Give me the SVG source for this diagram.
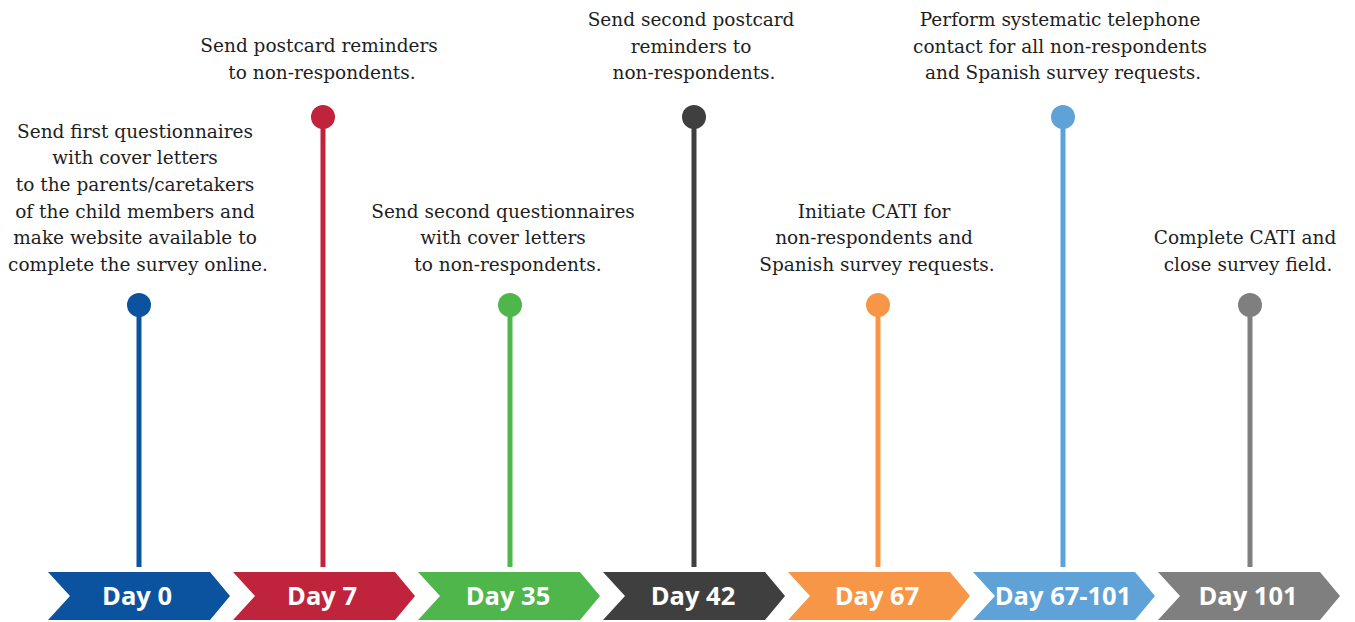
<svg xmlns="http://www.w3.org/2000/svg" width="1355" height="622" viewBox="0 0 1355 622">
  <defs>
    <style>
      .note { font-family: "DejaVu Serif", "Liberation Serif", serif; font-size: 18.5px; fill: #1e1e1e; text-anchor: middle; }
      .day { font-family: "Open Sans", "Liberation Sans", sans-serif; font-weight: bold; font-size: 25.5px; fill: #ffffff; text-anchor: middle; }
      .stem { stroke-width: 5; }
    </style>
    <!-- chevron shape with origin at its top-left corner -->
    <polygon id="chev" points="0,572 162,572 182,596 162,620 0,620 22,596"/>
  </defs>

  <rect width="1355" height="622" fill="#ffffff"/>

  <!-- stems with dots -->
  <g id="connectors">
    <line class="stem" x1="139" y1="305" x2="139" y2="567" stroke="#0B539E"/>
    <line class="stem" x1="323" y1="117" x2="323" y2="567" stroke="#C0243C"/>
    <line class="stem" x1="510" y1="305" x2="510" y2="567" stroke="#4FB64B"/>
    <line class="stem" x1="694" y1="117" x2="694" y2="567" stroke="#3F3F3F"/>
    <line class="stem" x1="878" y1="305" x2="878" y2="567" stroke="#F79646"/>
    <line class="stem" x1="1063" y1="117" x2="1063" y2="567" stroke="#5FA2D8"/>
    <line class="stem" x1="1250" y1="305" x2="1250" y2="567" stroke="#7F7F7F"/>
  </g>

  <g id="day0">
    <use href="#chev" x="48" fill="#0B539E"/>
    <text class="day" x="137" y="605">Day 0</text>
    <circle cx="139" cy="305" r="12" fill="#0B539E"/>
    <text class="note">
      <tspan x="138" y="137.7">Send first questionnaires</tspan>
      <tspan x="138" y="164.3">with cover letters</tspan>
      <tspan x="138" y="191">to the parents/caretakers</tspan>
      <tspan x="138" y="217.7">of the child members and</tspan>
      <tspan x="138" y="244.3">make website available to</tspan>
      <tspan x="138" y="271">complete the survey online.</tspan>
    </text>
  </g>

  <g id="day7">
    <use href="#chev" x="233" fill="#C0243C"/>
    <text class="day" x="322" y="605">Day 7</text>
    <circle cx="323" cy="117" r="12" fill="#C0243C"/>
    <text class="note">
      <tspan x="322" y="52.3">Send postcard reminders</tspan>
      <tspan x="322" y="79.3">to non-respondents.</tspan>
    </text>
  </g>

  <g id="day35">
    <use href="#chev" x="418" fill="#4FB64B"/>
    <text class="day" x="508" y="605">Day 35</text>
    <circle cx="510" cy="305" r="12" fill="#4FB64B"/>
    <text class="note">
      <tspan x="506" y="217.7">Send second questionnaires</tspan>
      <tspan x="506" y="244.3">with cover letters</tspan>
      <tspan x="508" y="271">to non-respondents.</tspan>
    </text>
  </g>

  <g id="day42">
    <use href="#chev" x="603" fill="#3F3F3F"/>
    <text class="day" x="693" y="605">Day 42</text>
    <circle cx="694" cy="117" r="12" fill="#3F3F3F"/>
    <text class="note">
      <tspan x="694" y="26">Send second postcard</tspan>
      <tspan x="694" y="52.7">reminders to</tspan>
      <tspan x="694" y="79.3">non-respondents.</tspan>
    </text>
  </g>

  <g id="day67">
    <use href="#chev" x="788" fill="#F79646"/>
    <text class="day" x="877" y="605">Day 67</text>
    <circle cx="878" cy="305" r="12" fill="#F79646"/>
    <text class="note">
      <tspan x="877" y="217.7">Initiate CATI for</tspan>
      <tspan x="877" y="244.3">non-respondents and</tspan>
      <tspan x="877" y="271">Spanish survey requests.</tspan>
    </text>
  </g>

  <g id="day67-101">
    <use href="#chev" x="973" fill="#5FA2D8"/>
    <text class="day" x="1063" y="605">Day 67-101</text>
    <circle cx="1063" cy="117" r="12" fill="#5FA2D8"/>
    <text class="note">
      <tspan x="1063" y="26">Perform systematic telephone</tspan>
      <tspan x="1063" y="52.7">contact for all non-respondents</tspan>
      <tspan x="1063" y="79.3">and Spanish survey requests.</tspan>
    </text>
  </g>

  <g id="day101">
    <use href="#chev" x="1158" fill="#7F7F7F"/>
    <text class="day" x="1248" y="605">Day 101</text>
    <circle cx="1250" cy="305" r="12" fill="#7F7F7F"/>
    <text class="note">
      <tspan x="1248" y="244.3">Complete CATI and</tspan>
      <tspan x="1248" y="271">close survey field.</tspan>
    </text>
  </g>
</svg>
